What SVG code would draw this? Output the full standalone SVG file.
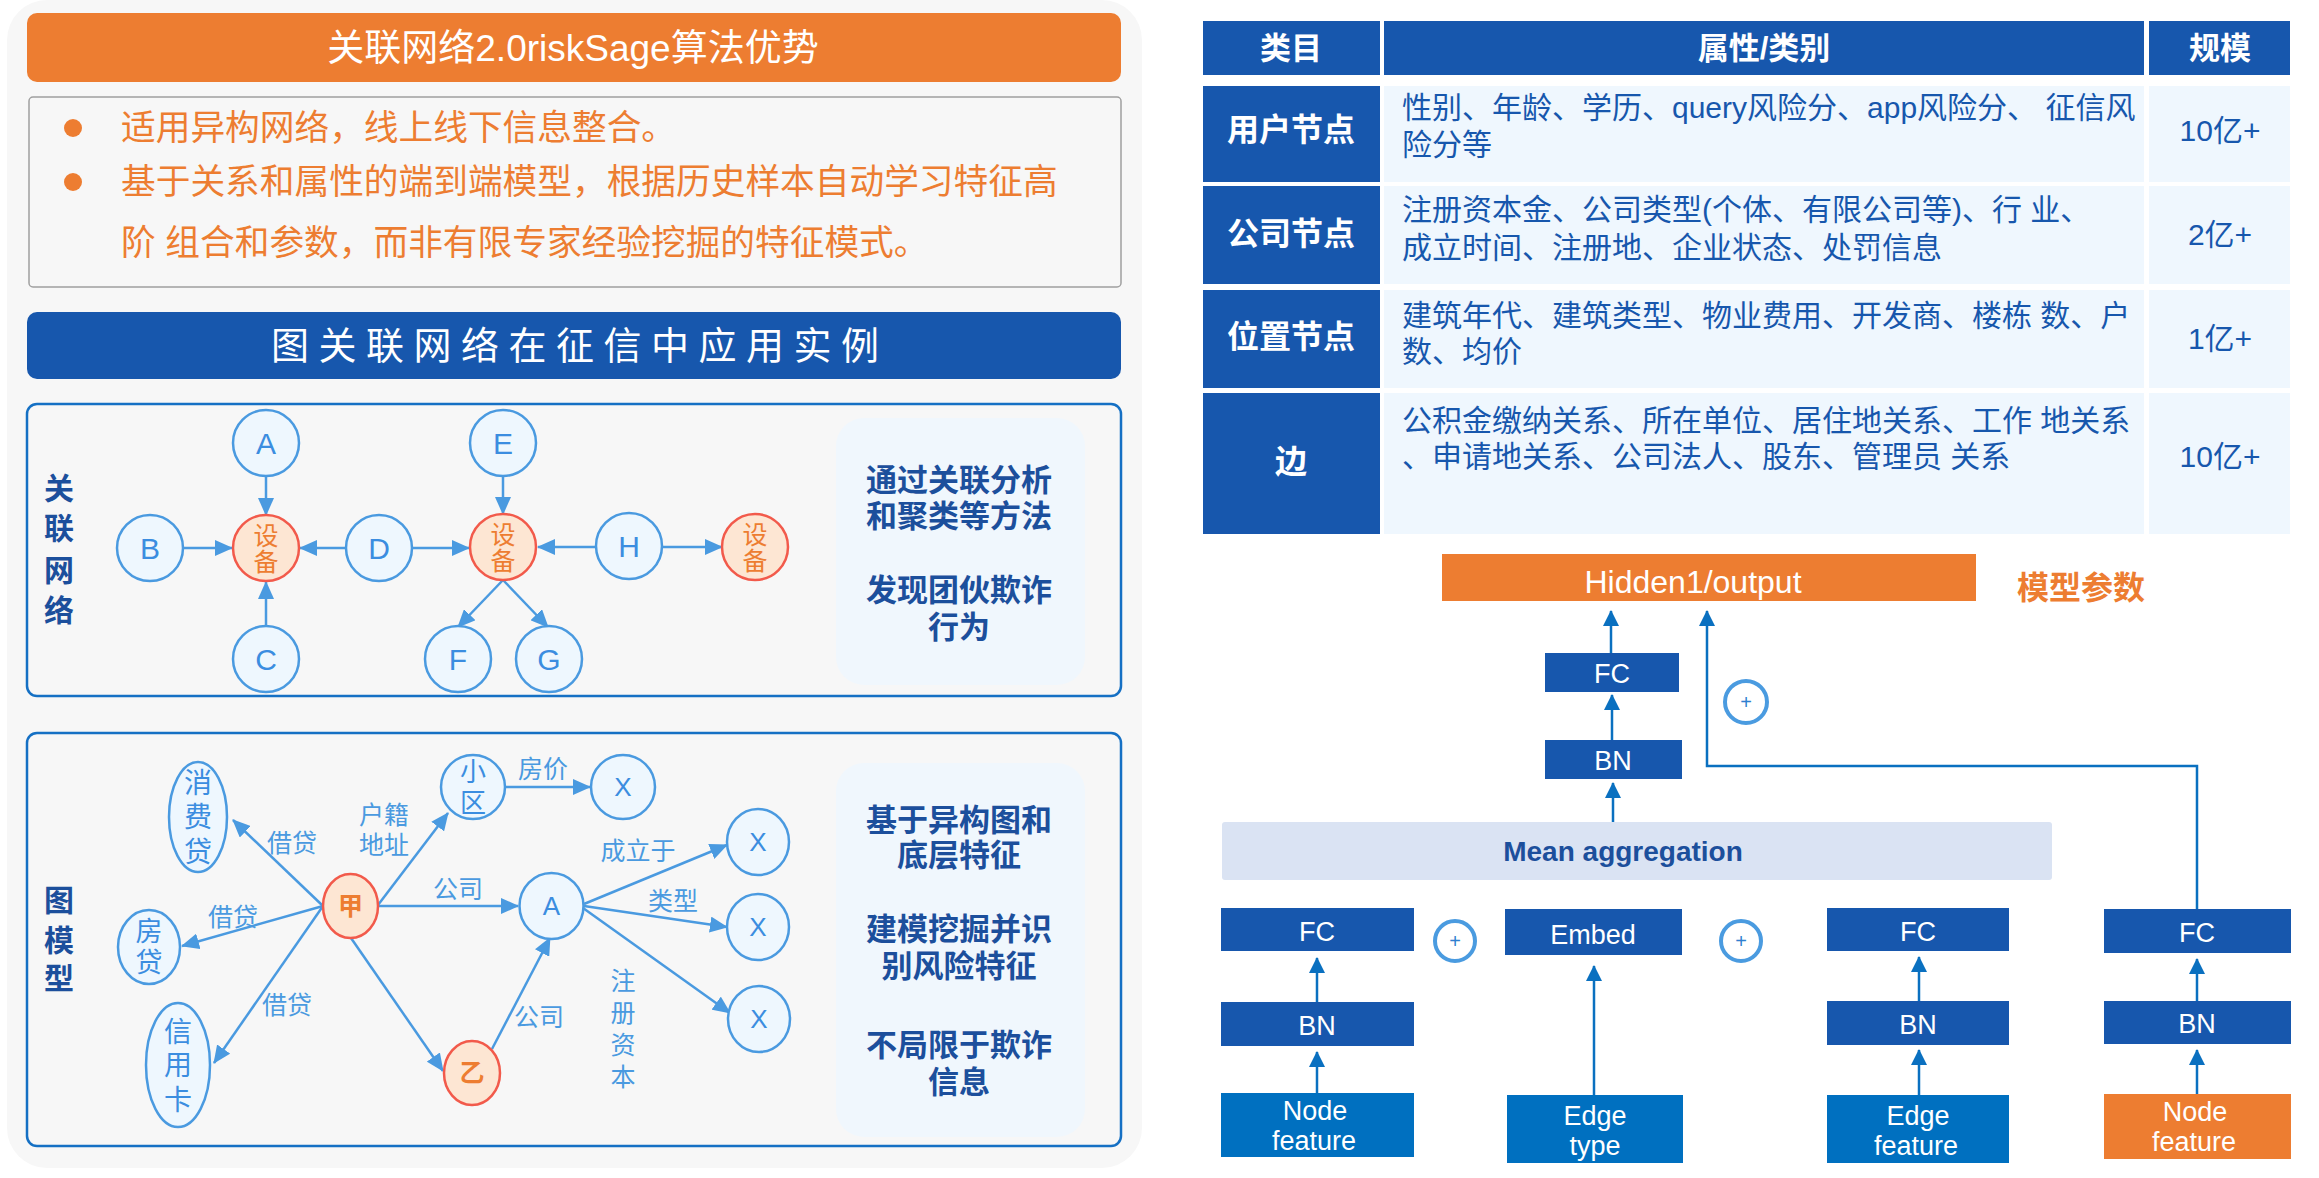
<svg xmlns="http://www.w3.org/2000/svg" width="2319" height="1178" viewBox="0 0 2319 1178">
<defs>
<style>
text{font-family:"Liberation Sans","Noto Sans CJK SC",sans-serif;dominant-baseline:central}
.mid{text-anchor:middle}
.b{font-weight:bold}
.wt{fill:#ffffff}
.navy{fill:#1c4f9c;font-weight:bold}
.or{fill:#ed7d31}
.node{fill:#eef7fe;stroke:#4a9ae0;stroke-width:2.5}
.dev{fill:#fde6d3;stroke:#f25a4b;stroke-width:2.5}
.lt{fill:#3b8de0}
.lbl{fill:#4a9ae0;font-size:25px;text-anchor:middle}
.edge{stroke:#4a9ae0;stroke-width:2.5;fill:none;marker-end:url(#al)}
.arr{stroke:#0a70c0;stroke-width:2.5;fill:none;marker-end:url(#ad)}
.dk{fill:#1757ad}
.md{fill:#0070c0}
.cell{fill:#eff7fe}
.ct{fill:#1757ad;font-size:30px}
.plus{fill:#ffffff;stroke:#4a9be0;stroke-width:4}
.pt{fill:#2f7fd0;font-size:20px;text-anchor:middle}
.bx{fill:#ffffff;text-anchor:middle;font-size:27px}
</style>
<marker id="al" viewBox="0 0 18 16" refX="17" refY="8" markerWidth="18" markerHeight="16" markerUnits="userSpaceOnUse" orient="auto"><path d="M0,0L18,8L0,16z" fill="#4a9ae0"/></marker>
<marker id="ad" viewBox="0 0 16 16" refX="15" refY="8" markerWidth="16" markerHeight="16" markerUnits="userSpaceOnUse" orient="auto"><path d="M0,0L16,8L0,16z" fill="#0a70c0"/></marker>
</defs>
<rect x="0" y="0" width="2319" height="1178" fill="#ffffff"/>
<rect x="7" y="0" width="1135" height="1168" rx="40" fill="#f7f7f7"/>

<g id="title-orange">
<rect x="27" y="13" width="1094" height="69" rx="10" fill="#ed7d31"/>
<text x="573" y="48" class="mid wt" font-size="37">关联网络2.0riskSage算法优势</text>
</g>
<g id="bullets">
<rect x="29" y="97" width="1092" height="190" rx="4" fill="#f7f7f7" stroke="#a0a0a0" stroke-width="1.5"/>
<circle cx="73" cy="128" r="9" fill="#ed7d31"/>
<text x="121" y="128" class="or" font-size="34.7">适用异构网络，线上线下信息整合。</text>
<circle cx="73" cy="182" r="9" fill="#ed7d31"/>
<text x="121" y="182" class="or" font-size="34.7">基于关系和属性的端到端模型，根据历史样本自动学习特征高</text>
<text x="121" y="243" class="or" font-size="34.7">阶 组合和参数，而非有限专家经验挖掘的特征模式。</text>
</g>
<g id="title-blue">
<rect x="27" y="312" width="1094" height="67" rx="10" fill="#1757ad"/>
<text x="271" y="346" class="wt" font-size="38" letter-spacing="9.5">图关联网络在征信中应用实例</text>
</g>

<g id="panel-network">
<rect x="27" y="404" width="1094" height="292" rx="10" fill="#f7f7f7" stroke="#1570c4" stroke-width="2.5"/>
<rect x="836" y="418" width="249" height="267" rx="28" fill="#f0f7fd"/>
<text x="59" y="488" class="mid navy" font-size="30">关</text>
<text x="59" y="528" class="mid navy" font-size="30">联</text>
<text x="59" y="570" class="mid navy" font-size="30">网</text>
<text x="59" y="610" class="mid navy" font-size="30">络</text>
<text x="959" y="480" class="mid navy" font-size="31">通过关联分析</text>
<text x="959" y="516" class="mid navy" font-size="31">和聚类等方法</text>
<text x="959" y="590" class="mid navy" font-size="31">发现团伙欺诈</text>
<text x="959" y="627" class="mid navy" font-size="31">行为</text>
</g>
<g id="net-connectors">
<path class="edge" d="M266,476V515"/>
<path class="edge" d="M266,626V582"/>
<path class="edge" d="M183,548H232"/>
<path class="edge" d="M346,548H300"/>
<path class="edge" d="M412,548H469"/>
<path class="edge" d="M503,476V514"/>
<path class="edge" d="M596,547H538"/>
<path class="edge" d="M662,547H722"/>
<path class="edge" d="M503,580L458,627"/>
<path class="edge" d="M503,580L548,627"/>
</g>
<g id="net-A"><circle cx="266" cy="443" r="33" class="node"/><text x="266" y="443" class="mid lt" font-size="30">A</text></g>
<g id="net-B"><circle cx="150" cy="548" r="33" class="node"/><text x="150" y="548" class="mid lt" font-size="30">B</text></g>
<g id="net-dev1"><circle cx="266" cy="548" r="33" class="dev"/><text x="266" y="536" class="mid or" font-size="25">设</text><text x="266" y="562" class="mid or" font-size="25">备</text></g>
<g id="net-C"><circle cx="266" cy="659" r="33" class="node"/><text x="266" y="659" class="mid lt" font-size="30">C</text></g>
<g id="net-D"><circle cx="379" cy="548" r="33" class="node"/><text x="379" y="548" class="mid lt" font-size="30">D</text></g>
<g id="net-dev2"><circle cx="503" cy="547" r="33" class="dev"/><text x="503" y="535" class="mid or" font-size="25">设</text><text x="503" y="561" class="mid or" font-size="25">备</text></g>
<g id="net-E"><circle cx="503" cy="443" r="33" class="node"/><text x="503" y="443" class="mid lt" font-size="30">E</text></g>
<g id="net-H"><circle cx="629" cy="546" r="33" class="node"/><text x="629" y="546" class="mid lt" font-size="30">H</text></g>
<g id="net-dev3"><circle cx="755" cy="547" r="33" class="dev"/><text x="755" y="535" class="mid or" font-size="25">设</text><text x="755" y="561" class="mid or" font-size="25">备</text></g>
<g id="net-F"><circle cx="458" cy="659" r="33" class="node"/><text x="458" y="659" class="mid lt" font-size="30">F</text></g>
<g id="net-G"><circle cx="549" cy="659" r="33" class="node"/><text x="549" y="659" class="mid lt" font-size="30">G</text></g>

<g id="panel-graph">
<rect x="27" y="733" width="1094" height="413" rx="10" fill="#f7f7f7" stroke="#1570c4" stroke-width="2.5"/>
<rect x="836" y="763" width="249" height="374" rx="28" fill="#f0f7fd"/>
<text x="59" y="900" class="mid navy" font-size="30">图</text>
<text x="59" y="940" class="mid navy" font-size="30">模</text>
<text x="59" y="978" class="mid navy" font-size="30">型</text>
<text x="959" y="820" class="mid navy" font-size="31">基于异构图和</text>
<text x="959" y="855" class="mid navy" font-size="31">底层特征</text>
<text x="959" y="929" class="mid navy" font-size="31">建模挖掘并识</text>
<text x="959" y="966" class="mid navy" font-size="31">别风险特征</text>
<text x="959" y="1045" class="mid navy" font-size="31">不局限于欺诈</text>
<text x="959" y="1082" class="mid navy" font-size="31">信息</text>
</g>
<g id="graph-connectors">
<path class="edge" d="M323,906L233,820"/>
<path class="edge" d="M323,906L182,946"/>
<path class="edge" d="M323,906L214,1063"/>
<path class="edge" d="M378,905L448,813"/>
<path class="edge" d="M504,787H590"/>
<path class="edge" d="M379,906H518"/>
<path class="edge" d="M351,938L443,1071"/>
<path class="edge" d="M492,1049L550,938"/>
<path class="edge" d="M584,904L727,845"/>
<path class="edge" d="M584,906L727,927"/>
<path class="edge" d="M583,908L730,1013"/>
<text x="292" y="843" class="lbl">借贷</text>
<text x="384" y="815" class="lbl">户籍</text>
<text x="384" y="845" class="lbl">地址</text>
<text x="543" y="769" class="lbl">房价</text>
<text x="233" y="917" class="lbl">借贷</text>
<text x="458" y="889" class="lbl">公司</text>
<text x="638" y="851" class="lbl">成立于</text>
<text x="673" y="901" class="lbl">类型</text>
<text x="287" y="1005" class="lbl">借贷</text>
<text x="539" y="1017" class="lbl">公司</text>
<text x="623" y="981" class="lbl">注</text>
<text x="623" y="1013" class="lbl">册</text>
<text x="623" y="1045" class="lbl">资</text>
<text x="623" y="1077" class="lbl">本</text>
</g>
<g id="g-xiaofeidai"><ellipse cx="198" cy="817" rx="29" ry="55" class="node"/><text x="198" y="783" class="mid lt" font-size="28">消</text><text x="198" y="817" class="mid lt" font-size="28">费</text><text x="198" y="852" class="mid lt" font-size="28">贷</text></g>
<g id="g-fangdai"><ellipse cx="149" cy="947" rx="31" ry="37" class="node"/><text x="149" y="932" class="mid lt" font-size="27">房</text><text x="149" y="963" class="mid lt" font-size="27">贷</text></g>
<g id="g-xinyongka"><ellipse cx="178" cy="1065" rx="32" ry="62" class="node"/><text x="178" y="1032" class="mid lt" font-size="28">信</text><text x="178" y="1065" class="mid lt" font-size="28">用</text><text x="178" y="1100" class="mid lt" font-size="28">卡</text></g>
<g id="g-jia"><ellipse cx="350.5" cy="906" rx="27.5" ry="32" class="dev"/><text x="350.5" y="906" class="mid or b" font-size="25">甲</text></g>
<g id="g-xiaoqu"><circle cx="473" cy="787" r="32" class="node"/><text x="473" y="772" class="mid lt" font-size="26">小</text><text x="473" y="803" class="mid lt" font-size="26">区</text></g>
<g id="g-X1"><circle cx="623" cy="787" r="32" class="node"/><text x="623" y="787" class="mid lt" font-size="26">X</text></g>
<g id="g-A"><ellipse cx="551.5" cy="906" rx="32" ry="33" class="node"/><text x="551.5" y="906" class="mid lt" font-size="26">A</text></g>
<g id="g-yi"><ellipse cx="472" cy="1073" rx="28" ry="32" class="dev"/><text x="472" y="1073" class="mid or b" font-size="25">乙</text></g>
<g id="g-X2"><ellipse cx="758" cy="842" rx="31" ry="33" class="node"/><text x="758" y="842" class="mid lt" font-size="26">X</text></g>
<g id="g-X3"><ellipse cx="758" cy="927" rx="31" ry="33" class="node"/><text x="758" y="927" class="mid lt" font-size="26">X</text></g>
<g id="g-X4"><ellipse cx="759" cy="1019" rx="31" ry="33" class="node"/><text x="759" y="1019" class="mid lt" font-size="26">X</text></g>

<g id="table">
<rect x="1203" y="21" width="177" height="54" class="dk"/>
<rect x="1384" y="21" width="760" height="54" class="dk"/>
<rect x="2149" y="21" width="141" height="54" class="dk"/>
<text x="1291" y="48" class="mid wt b" font-size="31">类目</text>
<text x="1764" y="48" class="mid wt b" font-size="31">属性/类别</text>
<text x="2220" y="48" class="mid wt b" font-size="31">规模</text>

<rect x="1203" y="86" width="177" height="96" class="dk"/>
<rect x="1384" y="86" width="760" height="96" class="cell"/>
<rect x="2149" y="86" width="141" height="96" class="cell"/>
<text x="1291" y="130" class="mid wt b" font-size="32">用户节点</text>
<text x="1402" y="107" class="ct">性别、年龄、学历、query风险分、app风险分、 征信风</text>
<text x="1402" y="144" class="ct">险分等</text>
<text x="2220" y="130" class="ct mid">10亿+</text>

<rect x="1203" y="186" width="177" height="98" class="dk"/>
<rect x="1384" y="186" width="760" height="98" class="cell"/>
<rect x="2149" y="186" width="141" height="98" class="cell"/>
<text x="1291" y="234" class="mid wt b" font-size="32">公司节点</text>
<text x="1402" y="209" class="ct">注册资本金、公司类型(个体、有限公司等)、行 业、</text>
<text x="1402" y="247" class="ct">成立时间、注册地、企业状态、处罚信息</text>
<text x="2220" y="234" class="ct mid">2亿+</text>

<rect x="1203" y="290" width="177" height="98" class="dk"/>
<rect x="1384" y="290" width="760" height="98" class="cell"/>
<rect x="2149" y="290" width="141" height="98" class="cell"/>
<text x="1291" y="337" class="mid wt b" font-size="32">位置节点</text>
<text x="1402" y="315" class="ct">建筑年代、建筑类型、物业费用、开发商、楼栋 数、户</text>
<text x="1402" y="351" class="ct">数、均价</text>
<text x="2220" y="338" class="ct mid">1亿+</text>

<rect x="1203" y="393" width="177" height="141" class="dk"/>
<rect x="1384" y="393" width="760" height="141" class="cell"/>
<rect x="2149" y="393" width="141" height="141" class="cell"/>
<text x="1291" y="462" class="mid wt b" font-size="32">边</text>
<text x="1402" y="420" class="ct">公积金缴纳关系、所在单位、居住地关系、工作 地关系</text>
<text x="1402" y="456" class="ct">、申请地关系、公司法人、股东、管理员 关系</text>
<text x="2220" y="456" class="ct mid">10亿+</text>
</g>

<g id="model-connectors">
<path class="arr" d="M1611,653V611"/>
<path class="arr" d="M1612,740V695"/>
<path class="arr" d="M1613,822V783"/>
<path class="arr" d="M2197,909V766H1707V611"/>
<path class="arr" d="M1317,1093V1052"/>
<path class="arr" d="M1317,1002V958"/>
<path class="arr" d="M1594,1095V966"/>
<path class="arr" d="M1919,1095V1050"/>
<path class="arr" d="M1919,1001V957"/>
<path class="arr" d="M2197,1094V1050"/>
<path class="arr" d="M2197,1001V959"/>
</g>
<g id="m-hidden"><rect x="1442" y="554" width="534" height="47" fill="#ed7d31"/><text x="1693" y="582" class="mid wt" font-size="32">Hidden1/output</text></g>
<g id="m-params"><text x="2081" y="588" class="mid or b" font-size="32">模型参数</text></g>
<g id="m-fc-top"><rect x="1545" y="653" width="134" height="39" class="dk"/><text x="1612" y="674" class="bx">FC</text></g>
<g id="m-bn-top"><rect x="1545" y="740" width="137" height="39" class="dk"/><text x="1613" y="761" class="bx">BN</text></g>
<g id="m-plus-top"><circle cx="1746" cy="702" r="21" class="plus"/><text x="1746" y="702" class="pt">+</text></g>
<g id="m-mean"><rect x="1222" y="822" width="830" height="58" rx="3" fill="#dae3f3"/><text x="1623" y="851" class="mid navy" font-size="28">Mean aggregation</text></g>
<g id="m-a-fc"><rect x="1221" y="908" width="193" height="43" class="dk"/><text x="1317" y="932" class="bx">FC</text></g>
<g id="m-a-bn"><rect x="1221" y="1002" width="193" height="44" class="dk"/><text x="1317" y="1026" class="bx" font-size="30">BN</text></g>
<g id="m-a-nf"><rect x="1221" y="1093" width="193" height="64" class="md"/><text x="1315" y="1111" class="bx">Node</text><text x="1314" y="1141" class="bx">feature</text></g>
<g id="m-plus1"><circle cx="1455" cy="941" r="20" class="plus"/><text x="1455" y="941" class="pt">+</text></g>
<g id="m-embed"><rect x="1505" y="909" width="177" height="46" class="dk"/><text x="1593" y="935" class="bx">Embed</text></g>
<g id="m-edgetype"><rect x="1507" y="1095" width="176" height="68" class="md"/><text x="1595" y="1116" class="bx">Edge</text><text x="1595" y="1146" class="bx">type</text></g>
<g id="m-plus2"><circle cx="1741" cy="941" r="20" class="plus"/><text x="1741" y="941" class="pt">+</text></g>
<g id="m-c-fc"><rect x="1827" y="908" width="182" height="43" class="dk"/><text x="1918" y="932" class="bx">FC</text></g>
<g id="m-c-bn"><rect x="1827" y="1001" width="182" height="44" class="dk"/><text x="1918" y="1025" class="bx" font-size="30">BN</text></g>
<g id="m-c-ef"><rect x="1827" y="1095" width="182" height="68" class="md"/><text x="1918" y="1116" class="bx">Edge</text><text x="1916" y="1146" class="bx">feature</text></g>
<g id="m-d-fc"><rect x="2104" y="909" width="187" height="44" class="dk"/><text x="2197" y="933" class="bx">FC</text></g>
<g id="m-d-bn"><rect x="2104" y="1001" width="187" height="43" class="dk"/><text x="2197" y="1024" class="bx" font-size="30">BN</text></g>
<g id="m-d-nf"><rect x="2104" y="1094" width="187" height="65" fill="#ed7d31"/><text x="2195" y="1112" class="bx">Node</text><text x="2194" y="1142" class="bx">feature</text></g>
</svg>
